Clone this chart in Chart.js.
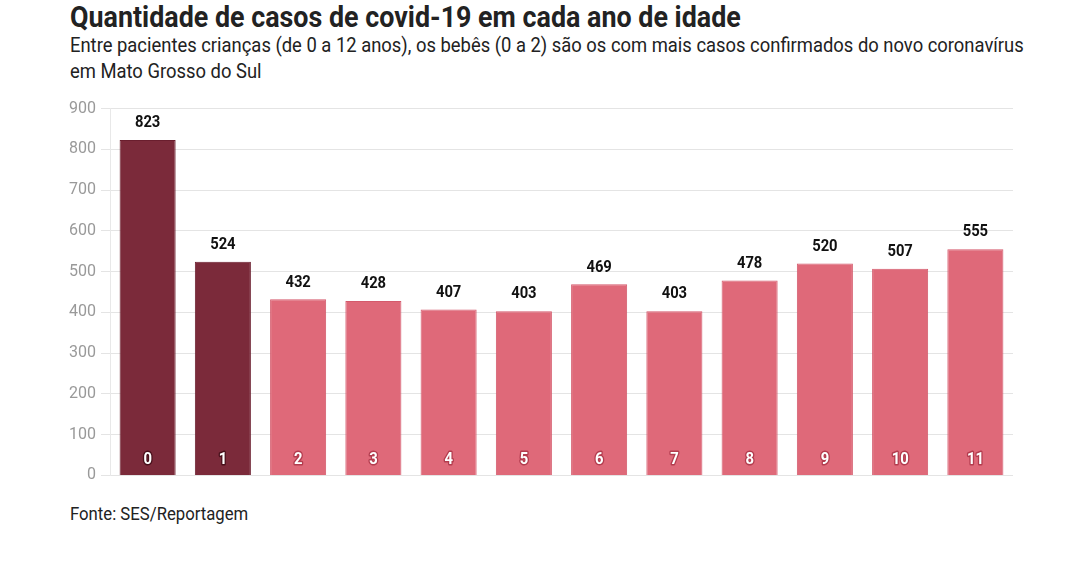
<!DOCTYPE html>
<html lang="pt-br">
<head>
<meta charset="UTF-8">
<title>Casos de covid-19 por idade</title>
<script src="https://cdn.jsdelivr.net/npm/chart.js"></script>
<style>
    body { margin: 0; background: #fff; font-family: Roboto, sans-serif; color: #222; }
    .txt { position: absolute; left: 70px; transform-origin: 0 0; white-space: nowrap; }
    #titulo { top: -1px; font-size: 30px; font-weight: 700; color: #222; transform: scaleX(0.895); }
    #subtitulo { top: 32px; font-size: 20px; line-height: 26px; color: #222; transform: scaleX(0.92); }
    #fonte { top: 502px; font-size: 19px; color: #222; transform: scaleX(0.88); }
    .graph { position: absolute; left: 0; top: 94px; width: 1013px; height: 396px; }
</style>
</head>
<body>
    <div class="txt" id="titulo">Quantidade de casos de covid-19 em cada ano de idade</div>
    <div class="txt" id="subtitulo">Entre pacientes crianças (de 0 a 12 anos), os bebês (0 a 2) são os com mais casos confirmados do novo coronavírus<br>em Mato Grosso do Sul</div>
    <div class="graph"><canvas id="myChart"></canvas></div>
    <div class="txt" id="fonte">Fonte: SES/Reportagem</div>

<script>
const idades = ['0', '1', '2', '3', '4', '5', '6', '7', '8', '9', '10', '11'];
const casos = [823, 524, 432, 428, 407, 403, 469, 403, 478, 520, 507, 555];
const destaque = [true, true, false, false, false, false, false, false, false, false, false, false];
const ticksY = [0, 100, 200, 300, 400, 500, 600, 700, 800, 900];

// rótulos: valor em cima da barra e idade dentro, embaixo
const rotulos = {
    id: 'rotulos',
    afterDatasetsDraw(chart) {
        const ctx = chart.ctx;
        const meta = chart.getDatasetMeta(0);
        const base = chart.scales.y.getPixelForValue(0);
        meta.data.forEach(function (bar, i) {
            ctx.save();
            ctx.translate(bar.x, bar.y - 17);
            ctx.scale(0.87, 1);
            ctx.font = 'bold 17px Roboto';
            ctx.textAlign = 'center';
            ctx.textBaseline = 'middle';
            ctx.fillStyle = '#111';
            ctx.fillText(casos[i], 0, 0);
            ctx.restore();

            ctx.save();
            ctx.translate(bar.x, base - 16);
            ctx.scale(0.87, 1);
            ctx.font = 'bold 17px Roboto';
            ctx.textAlign = 'center';
            ctx.textBaseline = 'middle';
            ctx.lineWidth = 3;
            ctx.lineJoin = 'round';
            ctx.strokeStyle = destaque[i] ? 'rgba(60,10,20,0.8)' : 'rgba(150,30,50,0.6)';
            ctx.strokeText(idades[i], 0, 0);
            ctx.fillStyle = '#fff';
            ctx.fillText(idades[i], 0, 0);
            ctx.restore();
        });
    }
};

const ctx = document.getElementById('myChart').getContext('2d');
new Chart(ctx, {
    type: 'bar',
    data: {
        labels: idades,
        datasets: [{
            data: casos,
            backgroundColor: destaque.map(d => d ? '#7b2a3a' : '#df6979'),
            borderColor: destaque.map(d => d ? '#6a1e2e' : '#d45a6c'),
            borderWidth: 1,
            categoryPercentage: 0.745,
            barPercentage: 1
        }]
    },
    options: {
        responsive: true,
        maintainAspectRatio: false,
        animation: false,
        layout: { padding: { top: 8, right: 0, bottom: 0, left: 0 } },
        plugins: {
            legend: { display: false },
            tooltip: { enabled: false }
        },
        scales: {
            x: {
                display: false,
                grid: { display: false }
            },
            y: {
                min: 0,
                max: 900,
                afterBuildTicks: function (scale) {
                    scale.ticks = ticksY.map(v => ({ value: v }));
                },
                afterFit: function (scale) {
                    scale.width = 110;
                },
                border: { display: true, color: '#e8e8e8' },
                grid: {
                    color: '#e4e4e4',
                    tickLength: 9,
                    tickColor: '#e4e4e4'
                },
                ticks: {
                    padding: 5,
                    color: '#999',
                    font: { size: 16, family: 'Roboto' }
                }
            }
        }
    },
    plugins: [rotulos]
});
</script>
</body>
</html>
